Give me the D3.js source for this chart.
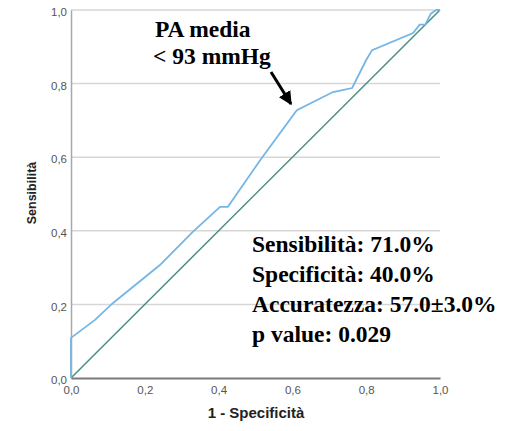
<!DOCTYPE html>
<html>
<head>
<meta charset="utf-8">
<script src="https://cdn.jsdelivr.net/npm/d3@7"></script>
<style>
  body { margin: 0; background: #fff; }
  .tick text { font-family: Arial, "Liberation Sans", sans-serif; font-size: 11.5px; fill: #555; }
  .big { font-family: "Times New Roman", "Liberation Serif", serif; font-weight: bold; font-size: 23.5px; fill: #000; }
</style>
</head>
<body>
<script>
// ROC curve: 1 - specificity vs sensitivity
var fpr  = [0, 0, 0.065, 0.114, 0.241, 0.33, 0.404, 0.425, 0.515, 0.612, 0.71, 0.762, 0.80, 0.816, 0.927, 0.945, 0.96, 0.975, 0.99, 1];
var sens = [0, 0.109, 0.158, 0.204, 0.307, 0.397, 0.465, 0.465, 0.595, 0.728, 0.777, 0.788, 0.864, 0.891, 0.9375, 0.96, 0.96, 0.99, 1.0, 1.0];
var ticks = [0, 0.2, 0.4, 0.6, 0.8, 1.0];
var title = ["PA media", "< 93 mmHg"];
var stats = ["Sensibilità: 71.0%", "Specificità: 40.0%", "Accuratezza: 57.0±3.0%", "p value: 0.029"];

var width = 516, height = 431;
var plotL = 71, plotR = 440, plotT = 10, plotB = 378;

var svg = d3.select("body").append("svg")
  .attr("width", width)
  .attr("height", height);

var x = d3.scaleLinear().domain([0, 1]).range([plotL, plotR]);
var y = d3.scaleLinear().domain([0, 1]).range([plotB, plotT]);
var fmt = function (d) { return d3.format(".1f")(d).replace(".", ","); };

// gridlines
svg.append("g")
  .selectAll("line")
  .data(ticks.filter(function (d) { return d > 0; }))
  .enter().append("line")
  .attr("x1", plotL).attr("x2", plotR)
  .attr("y1", function (d) { return y(d); })
  .attr("y2", function (d) { return y(d); })
  .attr("stroke", "#d6d6d6").attr("stroke-width", 1.5);

// axes
var yAxis = svg.append("g")
  .attr("transform", "translate(" + plotL + ",0)")
  .call(d3.axisLeft(y).tickValues(ticks).tickFormat(fmt).tickSize(0).tickPadding(4));
yAxis.select(".domain").attr("stroke", "#a8a8a8").attr("stroke-width", 1.5);
yAxis.selectAll(".tick text").attr("dy", "0.5em");

var xAxis = svg.append("g")
  .attr("transform", "translate(0," + plotB + ")")
  .call(d3.axisBottom(x).tickValues(ticks).tickFormat(fmt).tickSize(0).tickPadding(8));
xAxis.select(".domain").attr("stroke", "#7a7a7a").attr("stroke-width", 2);

// reference diagonal
svg.append("line")
  .attr("x1", x(0)).attr("y1", y(0))
  .attr("x2", x(1)).attr("y2", y(1))
  .attr("stroke", "#4a8f86").attr("stroke-width", 1.5);

// ROC curve
var line = d3.line()
  .x(function (d) { return x(d[0]); })
  .y(function (d) { return y(d[1]); });
svg.append("path")
  .datum(d3.zip(fpr, sens))
  .attr("d", line)
  .attr("fill", "none")
  .attr("stroke", "#74b6e6")
  .attr("stroke-width", 1.8);

// axis titles
svg.append("text")
  .attr("x", 256).attr("y", 418)
  .attr("text-anchor", "middle")
  .attr("font-family", "Arial, 'Liberation Sans', sans-serif")
  .attr("font-weight", "bold").attr("font-size", "15px")
  .attr("fill", "#222")
  .text("1 - Specificità");

svg.append("text")
  .attr("transform", "translate(36,193) rotate(-90)")
  .attr("text-anchor", "middle")
  .attr("font-family", "Arial, 'Liberation Sans', sans-serif")
  .attr("font-weight", "bold").attr("font-size", "12.5px")
  .attr("fill", "#222")
  .text("Sensibilità");

// annotation
svg.selectAll("text.title")
  .data(title)
  .enter().append("text")
  .attr("class", "big title")
  .attr("x", function (d, i) { return i == 0 ? 155 : 153; })
  .attr("y", function (d, i) { return 37 + i * 27; })
  .text(function (d) { return d; });

svg.append("defs").append("marker")
  .attr("id", "head")
  .attr("viewBox", "0 0 10 10")
  .attr("refX", 9).attr("refY", 5)
  .attr("markerWidth", 4.5).attr("markerHeight", 4.5)
  .attr("orient", "auto")
  .append("path").attr("d", "M0,0 L10,5 L0,10 Z").attr("fill", "#000");

svg.append("line")
  .attr("x1", 271).attr("y1", 72)
  .attr("x2", 291).attr("y2", 104)
  .attr("stroke", "#000").attr("stroke-width", 3)
  .attr("marker-end", "url(#head)");

svg.selectAll("text.stats")
  .data(stats)
  .enter().append("text")
  .attr("class", "big stats")
  .attr("x", 252)
  .attr("y", function (d, i) { return 252 + i * 30; })
  .text(function (d) { return d; });
</script>
</body>
</html>
